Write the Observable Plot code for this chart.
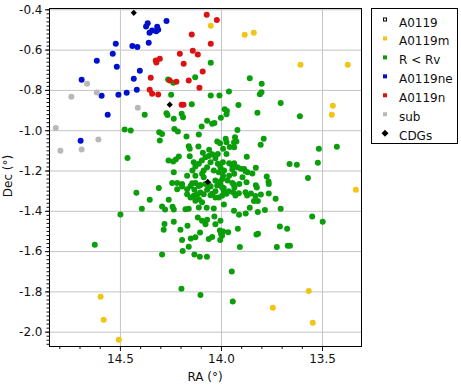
<!DOCTYPE html>
<html><head><meta charset="utf-8">
<script src="https://cdn.jsdelivr.net/npm/d3@7"></script>
<script src="https://cdn.jsdelivr.net/npm/@observablehq/plot@0.6"></script>
<style>
body{margin:0;background:#fff}
#chart{position:relative;width:461px;height:386px}
svg{font-family:"DejaVu Sans",sans-serif}
</style>
</head><body><div id="chart"></div>
<script>
// ---- series / legend ----
const seriesNames = ["A0119", "A0119m", "R < Rv", "A0119ne", "A0119n", "sub", "CDGs"];
const seriesColors = ["#000000", "#f2c414", "#0a9e0a", "#0010cc", "#dd1111", "#b8b8b8", "#000000"];

// ---- axis ticks ----
const xTicks = [14.5, 14.0, 13.5];
const yTicks = [-2.0, -1.8, -1.6, -1.4, -1.2, -1.0, -0.8, -0.6, -0.4];

// ---- A0119m (yellow) ----
const mRA  = [14.053,13.885,13.840,13.609,13.375,13.449,13.454,13.335,13.568,13.746,13.548,14.598,14.583,14.508];
const mDec = [-0.479,-0.524,-0.514,-0.673,-0.673,-0.876,-0.921,-1.293,-1.795,-1.879,-1.953,-1.824,-1.938,-2.038];

// ---- R < Rv (green) ----
const gRA = [14.053,14.130,14.264,14.238,14.053,14.147,14.249,14.380,14.272,14.267,14.236,14.197,14.190,14.071,14.098,14.046,14.035,14.003,13.984,13.973,13.975,14.010,13.963,14.479,14.449,14.308,14.294,14.233,14.216,14.173,14.112,14.305,14.465,14.162,14.157,14.114,14.061,
13.860,13.801,13.810,13.802,13.916,13.822,13.707,13.612,13.921,13.791,13.806,13.518,13.429,13.933,13.926,13.938,13.979,13.975,13.959,13.937,14.021,14.007,13.992,13.975,13.875,14.046,14.092,14.079,14.063,14.030,14.018,14.157,14.211,14.226,14.239,14.262,14.137,14.129,14.112,14.097,14.054,14.071,14.018,14.005,13.993,14.144,14.088,14.038,14.013,13.992,14.236,14.170,14.129,14.096,14.088,14.030,14.005,14.244,14.219,14.195,14.129,14.104,
13.962,13.937,13.830,13.663,13.627,13.946,13.921,13.904,13.888,13.871,13.847,13.987,13.962,13.937,13.896,13.776,13.767,13.572,13.995,13.970,13.946,13.912,13.830,13.523,13.947,13.881,
14.079,14.054,14.021,13.989,13.939,13.936,14.071,14.046,14.030,13.975,13.964,13.942,13.931,13.914,13.876,13.825,13.766,13.881,13.873,13.854,13.832,13.805,13.766,13.732,14.096,13.988,13.839,13.820,13.938,13.913,13.880,13.860,13.820,13.785,13.707,13.551,13.499,
14.117,14.096,14.079,14.071,14.035,14.030,14.005,
14.008,14.002,13.992,13.967,13.919,13.711,13.675,13.827,13.819,14.106,14.063,14.046,14.006,13.909,13.726,13.672,13.661,14.107,14.072,13.949,14.104,13.944,
14.310,14.219,14.195,14.170,14.153,14.145,14.134,14.112,14.063,14.005,13.997,13.989,14.170,14.153,14.137,14.120,14.104,14.112,14.129,14.088,14.054,14.030,14.013,13.997,14.355,14.261,14.394,14.294,14.279,14.242,14.236,14.178,14.162,14.112,14.073,14.038,14.282,14.286,14.236,14.168,14.203,14.195,14.152,14.129,13.997,14.162,14.192,14.294,14.134,14.421,14.500,14.627,14.198];
const gDec = [-0.663,-0.735,-0.746,-0.762,-0.825,-0.869,-0.822,-0.921,-0.913,-0.922,-0.941,-0.916,-0.933,-0.951,-0.979,-0.966,-0.962,-0.936,-0.893,-0.902,-0.918,-0.825,-0.806,-0.994,-0.999,-1.008,-1.016,-0.991,-1.004,-1.029,-1.019,-1.049,-1.135,-1.077,-1.090,-1.079,-1.094,
-0.740,-0.767,-0.819,-0.809,-0.872,-0.911,-0.862,-0.928,-0.996,-1.040,-1.070,-1.090,-1.080,-1.032,-1.054,-1.057,-1.040,-1.057,-1.081,-1.082,-1.054,-1.062,-1.090,-1.116,-1.129,-1.117,-1.110,-1.132,-1.126,-1.137,-1.115,-1.127,-1.128,-1.143,-1.153,-1.148,-1.157,-1.178,-1.164,-1.148,-1.157,-1.181,-1.164,-1.181,-1.157,-1.198,-1.198,-1.198,-1.206,-1.223,-1.206,-1.223,-1.223,-1.214,-1.231,-1.247,-1.252,-1.259,-1.259,-1.264,-1.259,-1.269,
-1.161,-1.161,-1.184,-1.165,-1.169,-1.193,-1.181,-1.189,-1.190,-1.206,-1.212,-1.198,-1.223,-1.214,-1.231,-1.227,-1.252,-1.235,-1.239,-1.247,-1.259,-1.264,-1.271,-1.159,-1.174,-1.201,
-1.264,-1.277,-1.272,-1.284,-1.267,-1.282,-1.293,-1.313,-1.300,-1.313,-1.300,-1.305,-1.322,-1.310,-1.256,-1.282,-1.265,-1.305,-1.322,-1.312,-1.324,-1.317,-1.312,-1.338,-1.355,-1.366,-1.349,-1.349,-1.397,-1.417,-1.411,-1.383,-1.404,-1.393,-1.387,-1.426,-1.452,
-1.431,-1.447,-1.464,-1.442,-1.426,-1.464,-1.447,
-1.495,-1.513,-1.500,-1.504,-1.487,-1.476,-1.487,-1.515,-1.512,-1.505,-1.537,-1.528,-1.543,-1.577,-1.577,-1.571,-1.571,-1.625,-1.625,-1.699,-1.815,-1.848,
-1.284,-1.291,-1.277,-1.291,-1.274,-1.261,-1.293,-1.274,-1.266,-1.266,-1.282,-1.298,-1.315,-1.332,-1.323,-1.315,-1.307,-1.340,-1.348,-1.315,-1.320,-1.332,-1.332,-1.323,-1.343,-1.343,-1.387,-1.376,-1.391,-1.378,-1.391,-1.390,-1.387,-1.381,-1.382,-1.386,-1.463,-1.492,-1.452,-1.472,-1.492,-1.542,-1.535,-1.529,-1.521,-1.576,-1.597,-1.614,-1.614,-1.308,-1.416,-1.566,-1.785];

// ---- A0119ne (blue) ----
const neRA  = [14.272,14.373,14.365,14.318,14.313,14.356,14.343,14.323,14.360,14.523,14.441,14.416,14.538,14.617,14.518,14.404,14.692,14.434,14.419,14.469,14.510,14.593,14.563,14.697];
const neDec = [-0.455,-0.483,-0.467,-0.484,-0.499,-0.514,-0.503,-0.506,-0.564,-0.569,-0.579,-0.584,-0.618,-0.653,-0.683,-0.703,-0.747,-0.742,-0.797,-0.812,-0.822,-0.827,-0.921,-1.050];

// ---- A0119n (red) ----
const nRA  = [14.073,14.023,14.147,14.053,14.142,14.117,14.206,14.305,14.325,14.322,14.187,14.093,14.350,14.162,14.256,14.223,14.109,14.355,14.343,14.313,14.197,14.188];
const nDec = [-0.425,-0.450,-0.523,-0.569,-0.603,-0.622,-0.618,-0.643,-0.652,-0.662,-0.668,-0.706,-0.737,-0.751,-0.751,-0.757,-0.787,-0.797,-0.817,-0.820,-0.871,-0.871];

// ---- sub (grey) ----
const sRA  = [14.665,14.743,14.617,14.414,14.820,14.609,14.797,14.692];
const sDec = [-0.767,-0.832,-0.810,-0.886,-0.986,-1.044,-1.100,-1.093];

// ---- CDGs (black diamonds) ----
const cRA  = [14.434,14.256,14.068];
const cDec = [-0.415,-0.871,-1.254];

const toRows = (ra, dec) => ra.map((r, i) => ({ra: r, dec: dec[i]}));

const xMinor = d3.range(148, 134, -1).map(v => v / 10);
const yMinor = d3.range(-206, -39, 2).map(v => v / 100);
const fmt = d => d.toFixed(1);

const dotLayer = (ra, dec, color) =>
  Plot.dot(toRows(ra, dec), {x: "ra", y: "dec", r: 3, fill: color, stroke: null});

const chart = Plot.plot({
  width: 461, height: 386,
  marginLeft: 49, marginRight: 100, marginTop: 8, marginBottom: 40,
  style: {fontFamily: "DejaVu Sans, sans-serif", fontSize: "12px", color: "#111", background: "#fff", overflow: "visible"},
  x: {domain: [14.851, 13.307]},
  y: {domain: [-2.071, -0.3935]},
  marks: [
    Plot.gridX(xTicks, {stroke: "#c4c4c4", strokeOpacity: 1}),
    Plot.gridY(yTicks, {stroke: "#c4c4c4", strokeOpacity: 1}),
    Plot.axisX(xMinor, {tickSize: 3, tickFormat: () => "", label: null}),
    Plot.axisX(xTicks, {tickSize: 5, tickPadding: 3, tickFormat: fmt, label: null, fontSize: 12}),
    Plot.axisY(yMinor, {tickSize: 2.5, tickFormat: () => "", label: null}),
    Plot.axisY(yTicks, {tickSize: 4, tickPadding: 3, tickFormat: fmt, label: null, fontSize: 12}),
    dotLayer(mRA, mDec, seriesColors[1]),
    dotLayer(gRA, gDec, seriesColors[2]),
    dotLayer(neRA, neDec, seriesColors[3]),
    dotLayer(nRA, nDec, seriesColors[4]),
    dotLayer(sRA, sDec, seriesColors[5]),
    Plot.dot(toRows(cRA, cDec), {x: "ra", y: "dec", symbol: "diamond2", r: 2.8, fill: seriesColors[6], stroke: null}),
    Plot.frame({stroke: "#000"})
  ]
});
document.getElementById("chart").appendChild(chart);

// ---- axis titles ----
const svg = d3.select(chart);
svg.append("text").attr("x", 205).attr("y", 381).attr("text-anchor", "middle")
  .attr("font-size", 12).attr("fill", "#111").text("RA (°)");
svg.append("text").attr("transform", "translate(12,176) rotate(-90)").attr("text-anchor", "middle")
  .attr("font-size", 12).attr("fill", "#111").text("Dec (°)");

// ---- legend ----
const lg = svg.append("g").attr("font-size", 12).attr("fill", "#111").attr("text-anchor", "start");
lg.append("rect").attr("x", 371.5).attr("y", 8.5).attr("width", 86).attr("height", 135)
  .attr("fill", "#fff").attr("stroke", "#000");
seriesNames.forEach((name, i) => {
  const ym = 19.5 + i * 18.95;
  const yt = 22.3 + i * 18.95;
  if (i === 0) {
    lg.append("rect").attr("x", 383.5).attr("y", ym - 1.5).attr("width", 3).attr("height", 3)
      .attr("fill", "#fff").attr("stroke", "#000");
  } else if (i === 6) {
    lg.append("path").attr("d", `M385,${ym-3.5}L388.5,${ym}L385,${ym+3.5}L381.5,${ym}Z`).attr("fill", "#000");
  } else {
    lg.append("rect").attr("x", 383).attr("y", ym - 2).attr("width", 4).attr("height", 4)
      .attr("fill", seriesColors[i]);
  }
  lg.append("text").attr("x", 399).attr("y", yt).attr("dy", "0.35em").attr("text-anchor", "start").text(name);
});
</script>
</body></html>
